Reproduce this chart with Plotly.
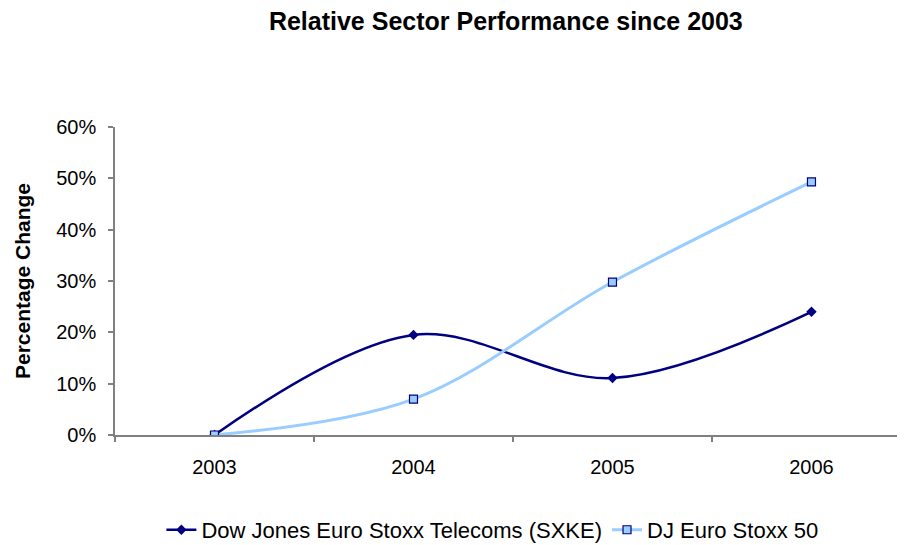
import plotly.graph_objects as go

years = ["2003", "2004", "2005", "2006"]
telecoms = [0.0, 0.195, 0.111, 0.240]
stoxx50 = [0.0, 0.070, 0.298, 0.493]
y_ticks = [0, 0.1, 0.2, 0.3, 0.4, 0.5, 0.6]

fig = go.Figure()
fig.add_trace(go.Scatter(
    x=years, y=telecoms, name="Dow Jones Euro Stoxx Telecoms (SXKE)",
    mode="lines+markers",
    line=dict(color="#000080", width=2.5, shape="spline", smoothing=1),
    marker=dict(symbol="diamond", size=8, color="#000080"),
))
fig.add_trace(go.Scatter(
    x=years, y=stoxx50, name="DJ Euro Stoxx 50",
    mode="lines+markers",
    line=dict(color="#99CCFF", width=3, shape="spline", smoothing=1),
    marker=dict(symbol="square", size=8, color="#99CCFF",
                line=dict(color="#000080", width=1.2)),
))

fig.update_layout(
    width=897, height=537,
    margin=dict(l=107, r=0, t=119, b=110),
    paper_bgcolor="white", plot_bgcolor="white",
    font=dict(family="Liberation Sans, Arial", size=20, color="black"),
    title=dict(text="<b>Relative Sector Performance since 2003</b>",
               x=0.555, xref="container", xanchor="center",
               y=0.976, yref="container", yanchor="middle",
               font=dict(size=25)),
    showlegend=True,
    legend=dict(orientation="h", x=0.54, xref="container", xanchor="center",
                y=0.028, yref="container", yanchor="middle",
                font=dict(size=22), itemwidth=30, tracegroupgap=0),
)
fig.update_xaxes(
    type="category", range=[-0.5, 3.47],
    showline=True, linecolor="#808080", linewidth=1.5,
    ticks="outside", ticklen=5, tickcolor="#808080", tickwidth=1.5,
    tickson="boundaries", showgrid=False, zeroline=False,
    ticklabelstandoff=13,
)
fig.update_yaxes(
    range=[0, 0.6], tickvals=y_ticks, tickformat=".0%",
    showline=True, linecolor="#808080", linewidth=1.5,
    ticks="outside", ticklen=5, tickcolor="#808080", tickwidth=1.5,
    showgrid=False, zeroline=False,
    title=dict(text="<b>Percentage Change</b>", font=dict(size=21), standoff=20),
    ticklabelstandoff=8,
)

fig.write_html("out.html")
